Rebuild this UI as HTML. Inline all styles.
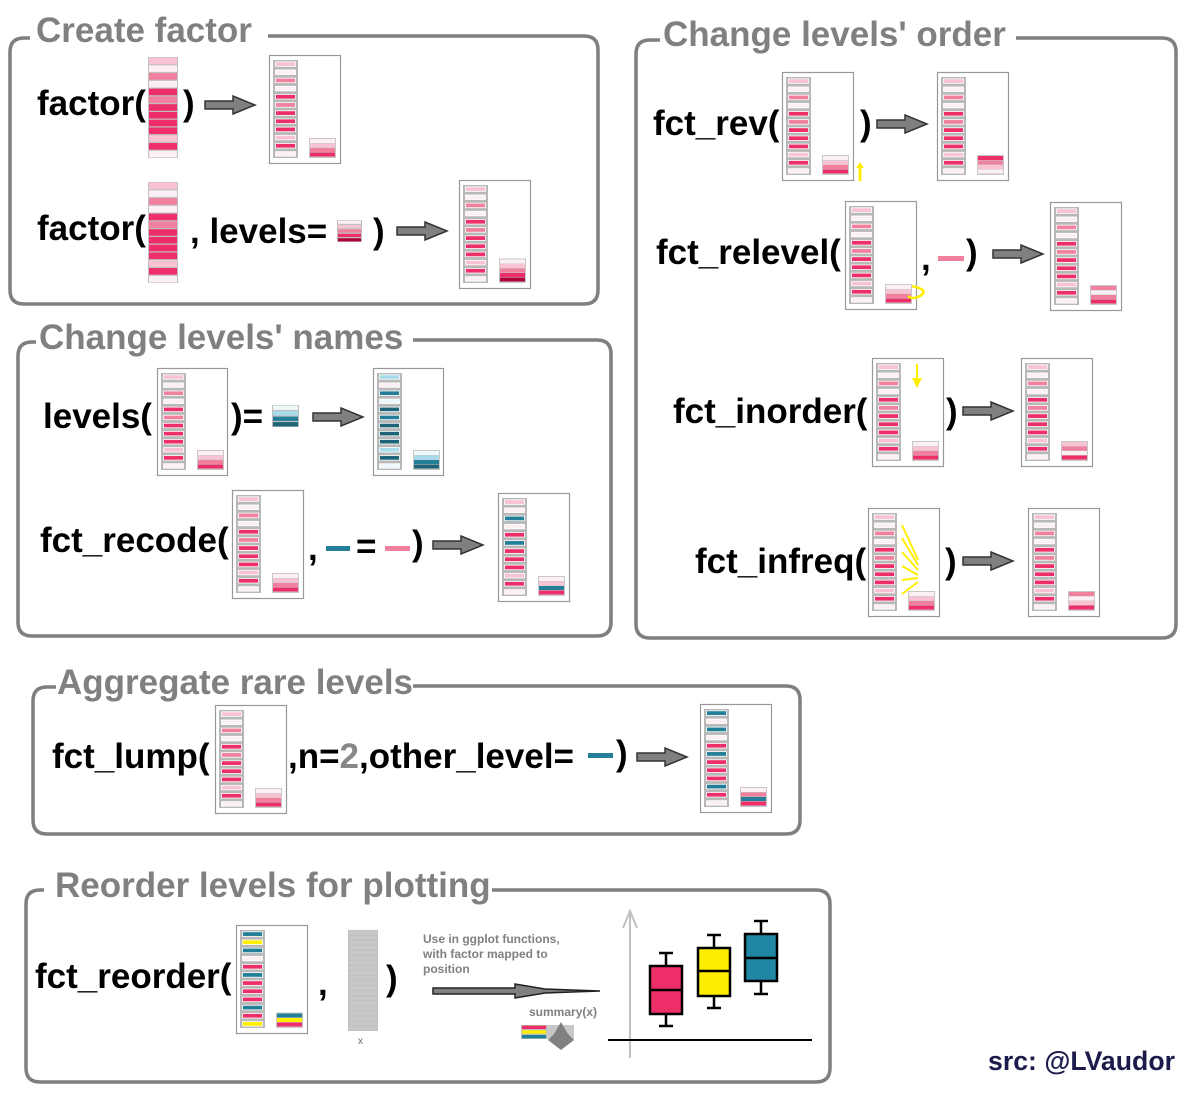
<!DOCTYPE html>
<html><head><meta charset="utf-8">
<style>
html,body{margin:0;padding:0;background:#fff;}
svg{display:block;font-family:"Liberation Sans",Arial,sans-serif;}
.t{font-weight:bold;font-size:35px;fill:#000;}
.h{font-weight:bold;font-size:35px;fill:#808080;}
</style></head>
<body>
<svg id="s" width="1200" height="1107" viewBox="0 0 1200 1107" xmlns="http://www.w3.org/2000/svg">
<rect width="1200" height="1107" fill="#fff"/>
<g fill="none" stroke="#7f7f7f" stroke-width="3.5">
<path d="M30 38 H24 Q10 38 10 52 V290 Q10 304 24 304 H584 Q598 304 598 290 V50 Q598 36 584 36 H268"/>
<path d="M660 40 H650 Q636 40 636 54 V624 Q636 638 650 638 H1162 Q1176 638 1176 624 V52 Q1176 38 1162 38 H1016"/>
<path d="M36 342 H32 Q18 342 18 356 V622 Q18 636 32 636 H597 Q611 636 611 622 V354 Q611 340 597 340 H413"/>
<path d="M56 687 H47 Q33 687 33 701 V820 Q33 834 47 834 H786 Q800 834 800 820 V700 Q800 686 786 686 H413"/>
<path d="M44 890 H40 Q26 890 26 904 V1068 Q26 1082 40 1082 H816 Q830 1082 830 1068 V904 Q830 890 816 890 H492"/>
</g>
<text class="h" x="36" y="42">Create factor</text>
<text class="h" x="663" y="46">Change levels' order</text>
<text class="h" x="39" y="349">Change levels' names</text>
<text class="h" x="57" y="694">Aggregate rare levels</text>
<text class="h" x="55" y="897">Reorder levels for plotting</text>

<text class="t" x="37" y="115">factor(</text>
<text class="t" x="183" y="115">)</text>
<text class="t" x="37" y="240">factor(</text>
<text class="t" x="190" y="243">, levels=</text>
<text class="t" x="373" y="243">)</text>

<text class="t" x="43" y="428">levels(</text>
<text class="t" x="231" y="428">)=</text>
<text class="t" x="40" y="552">fct_recode(</text>
<text class="t" x="308" y="560">,</text>
<text class="t" x="356" y="558">=</text>
<text class="t" x="412" y="555">)</text>

<text class="t" x="653" y="135">fct_rev(</text>
<text class="t" x="860" y="135">)</text>
<text class="t" x="656" y="264">fct_relevel(</text>
<text class="t" x="921" y="270">,</text>
<text class="t" x="966" y="264">)</text>
<text class="t" x="673" y="423">fct_inorder(</text>
<text class="t" x="946" y="423">)</text>
<text class="t" x="695" y="573">fct_infreq(</text>
<text class="t" x="945" y="573">)</text>

<text class="t" x="52" y="768">fct_lump(</text>
<text class="t" x="288" y="768">,n=<tspan fill="#888">2</tspan>,other_level=</text>
<text class="t" x="616" y="765">)</text>

<text class="t" x="35" y="988">fct_reorder(</text>
<text class="t" x="318" y="995">,</text>
<text class="t" x="386" y="990">)</text>
<text x="358" y="1044" font-size="10" fill="#666">x</text>
<text x="423" y="943" font-size="12" font-weight="bold" fill="#808080">Use in ggplot functions,</text>
<text x="423" y="958" font-size="12" font-weight="bold" fill="#808080">with factor mapped to</text>
<text x="423" y="973" font-size="12" font-weight="bold" fill="#808080">position</text>
<text x="529" y="1016" font-size="12" font-weight="bold" fill="#808080">summary(x)</text>
<text x="988" y="1070" font-size="27" font-weight="bold" fill="#1c1c4c" textLength="187" lengthAdjust="spacingAndGlyphs">src: @LVaudor</text>
<g id="dyn"></g>
</svg>
<script>
var C={D:"#ee2e68",M:"#f0809e",L:"#f9c3d3",W:"#fdf0f4",T:"#237e98",t:"#a8dcec",N:"#1d6478",w:"#eef8fb",Y:"#ffee00",R:"#b0003c",G:"#c8c8c8"};
var out="";
function r(x,y,w,h,f,s,sw){out+='<rect x="'+x+'" y="'+y+'" width="'+w+'" height="'+h+'" fill="'+f+'"'+(s?' stroke="'+s+'" stroke-width="'+(sw||1)+'"':'')+'/>';}
function box(x,y,pat,lv,w,h){w=w||71;h=h||108;
 r(x+.5,y+.5,w,h,"#fff","#999",1.2);
 var n=pat.length,cx=x+4,cy=y+5,ch=h-10,sh=ch/n;
 r(cx,cy,25,ch,"#b8b8b8");
 for(var i=0;i<n;i++){r(cx+2.5,cy+i*sh+1.8,20,sh-3.6,C[pat[i]],"#fff",0.8);}
 var k=lv.length,lh=4.5,ly=y+h-6-k*lh;
 r(x+40,ly-1,27,k*lh+2,"#c8c8c8");
 for(var j=0;j<k;j++){r(x+41,ly+j*lh,25,lh-0.5,C[lv[j]]);}
}
function strip(x,y,pat,w,h){var n=pat.length,sh=h/n;r(x,y,w,h,"#c0c0c0");
 for(var i=0;i<n;i++){r(x+1,y+i*sh+.6,w-2,sh-1.2,C[pat[i]]);}}
function arrow(x,y,len){len=len||50;var hl=22,sh=len-hl;
 out+='<polygon points="'+x+','+(y-4)+' '+(x+sh)+','+(y-4)+' '+(x+sh)+','+(y-9)+' '+(x+len)+','+y+' '+(x+sh)+','+(y+9)+' '+(x+sh)+','+(y+4)+' '+x+','+(y+4)+'" fill="#808080" stroke="#333" stroke-width="1.5"/>';}
function dash(x,y,w,c){r(x,y-2,w,5,c);}
var P="LWMWDMDDDLDW",L4="WLMD";
strip(148,57,"LWMWDMDDDDLDW",30,101);
arrow(205,105);box(269,55,P,L4);
strip(148,182,"LWMWDMDDDDLDW",30,101);
strip(337,220,"WLMDR",25,22);
arrow(397,231);box(459,180,P,"WLMDR");
box(157,368,P,L4,70,107);
strip(272,405,"wtTN",27,22);
arrow(313,417);box(373,368,"tWTwNTNNNtNw","wtTN",70,107);
box(232,490,P,L4);
dash(326,548,24,"#237e98");dash(385,548,25,"#f0809e");
arrow(433,545);box(498,493,"LWTWDTDDDLDW","WLTD");
box(782,72,P,L4);
out+='<polygon points="860,162 856,168 858.5,168 858.5,181 861.5,181 861.5,168 864,168" fill="#ffee00"/>';
arrow(877,124);box(937,72,P,"DMLW");
box(845,201,P,L4);
out+='<path d="M912 286 Q930 290 920 296 Q912 300 908 296" fill="none" stroke="#ffee00" stroke-width="2.5"/>';
dash(938,258,26,"#f0809e");
arrow(993,254);box(1050,202,P,"MWMD");
box(872,358,P,L4);
out+='<polygon points="916,364 916,378 912,378 917,388 922,378 918,378 918,364" fill="#ffee00"/>';
arrow(963,411);box(1021,358,P,"LMWD");
box(868,508,P,L4);
out+='<path d="M902 525 L918 560 M902 538 L918 565 M902 552 L918 570 M902 566 L918 575 M902 580 L918 578 M902 594 L918 582" stroke="#ffee00" stroke-width="2" fill="none"/>';
arrow(963,561);box(1028,508,P,"MWLD");
box(215,705,P,L4);
dash(588,755,25,"#237e98");
arrow(637,757);box(700,704,"TWTWDTDDDTDW","WMTD");
box(236,925,"TYTWDTDDDTDY","TYD");
strip(348,930,"GGGGGGGGGGGGGGGGGGGG",30,101);
out+='<polygon points="433,988 515,988 515,984 545,989 600,991 545,993 515,998 515,994 433,994" fill="#808080" stroke="#222" stroke-width="1.5"/>';
strip(521,1025,"DYT",26,14);
r(547,1025,27,14,"#c8c8c8");
out+='<polygon points="561,1022 568,1034 574,1040 561,1050 548,1040 554,1034" fill="#808080"/>';
out+='<line x1="630" y1="1058" x2="630" y2="912" stroke="#c0c0c0" stroke-width="2"/><path d="M623 928 L630 911 L637 928" fill="none" stroke="#c0c0c0" stroke-width="2"/>';
out+='<line x1="608" y1="1040" x2="812" y2="1040" stroke="#000" stroke-width="2"/>';
function bp(x,top,q1,med,q3,bot,c){var m=x+16;
 out+='<g stroke="#000" stroke-width="2.5"><line x1="'+m+'" y1="'+top+'" x2="'+m+'" y2="'+bot+'"/><line x1="'+(m-7)+'" y1="'+top+'" x2="'+(m+7)+'" y2="'+top+'"/><line x1="'+(m-7)+'" y1="'+bot+'" x2="'+(m+7)+'" y2="'+bot+'"/><rect x="'+x+'" y="'+q1+'" width="32" height="'+(q3-q1)+'" fill="'+c+'"/><line x1="'+x+'" y1="'+med+'" x2="'+(x+32)+'" y2="'+med+'"/></g>';}
bp(650,953,966,990,1014,1026,"#ee2e68");
bp(698,935,948,971,996,1008,"#ffee00");
bp(745,921,934,958,981,994,"#1f86a4");
document.getElementById("dyn").innerHTML=out;
</script>
</body></html>
